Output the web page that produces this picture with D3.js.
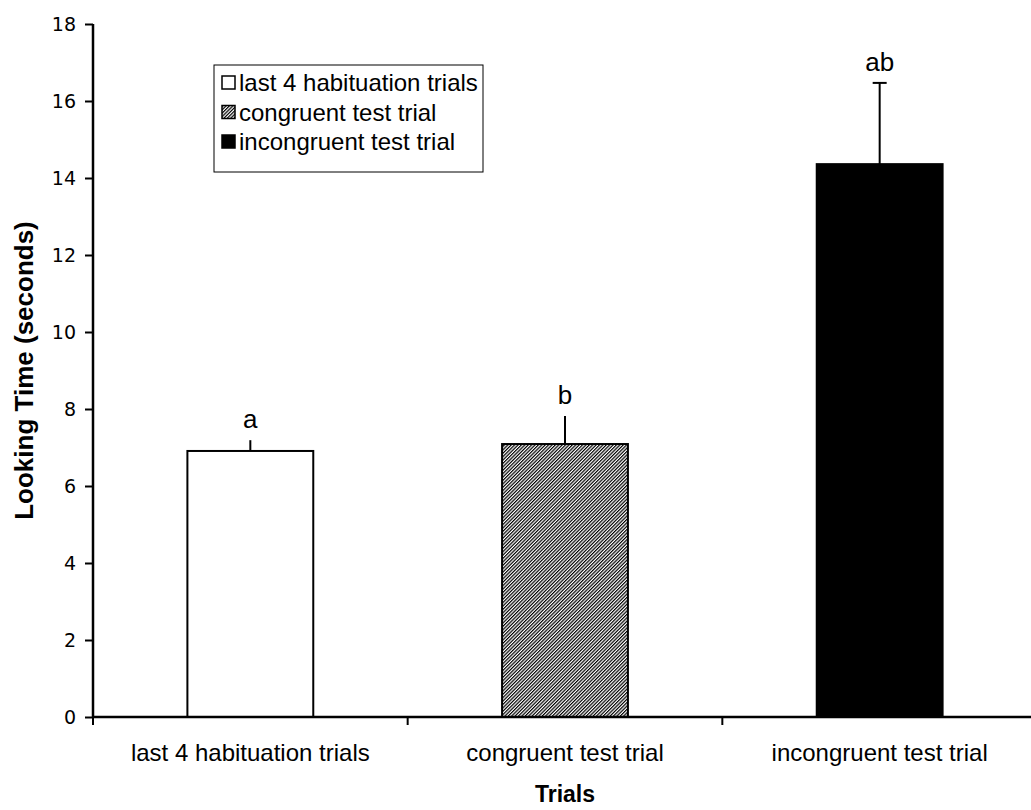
<!DOCTYPE html>
<html>
<head>
<meta charset="utf-8">
<script src="https://cdn.jsdelivr.net/npm/d3@7"></script>
<style>
  body { margin: 0; background: #fff; }
  text { fill: #000; }
</style>
</head>
<body>
<div id="chart"></div>
<script>
// Data
const categories = ["last 4 habituation trials", "congruent test trial", "incongruent test trial"];
const means = [6.91, 7.09, 14.36];
const errors = [0.28, 0.73, 2.11];
const letters = ["a", "b", "ab"];
const yTicks = [0, 2, 4, 6, 8, 10, 12, 14, 16, 18];

// SVG configurations
const margin = { top: 24, right: -6, bottom: 93, left: 93 };
const width = 1031 - margin.left - margin.right;
const height = 810 - margin.top - margin.bottom;
const font = "Liberation Sans, Arial, sans-serif";

const svg = d3.select("#chart")
  .append("svg")
    .attr("width", 1031)
    .attr("height", 810);

// hatch pattern for congruent bar
const defs = svg.append("defs");
defs.append("pattern")
    .attr("id", "hatch")
    .attr("patternUnits", "userSpaceOnUse")
    .attr("width", 2.4)
    .attr("height", 4)
    .attr("patternTransform", "rotate(45)")
  .call(p => {
    p.append("rect").attr("width", 2.4).attr("height", 4).attr("fill", "#fff");
    p.append("line")
      .attr("x1", 0.6).attr("y1", 0).attr("x2", 0.6).attr("y2", 4)
      .attr("stroke", "#000").attr("stroke-width", 1.2);
  });

const fills = ["#fff", "url(#hatch)", "#000"];

const g = svg.append("g")
  .attr("transform", `translate(${margin.left},${margin.top})`);

// Scales
const xScale = d3.scaleBand()
  .domain(categories)
  .range([0, width])
  .paddingInner(0.6)
  .paddingOuter(0.3);

const yScale = d3.scaleLinear()
  .domain([0, 18])
  .range([height, 0]);

// Bars
g.selectAll(".bar")
  .data(categories)
  .join("rect")
    .attr("class", "bar")
    .attr("x", d => xScale(d))
    .attr("y", (d, i) => yScale(means[i]))
    .attr("width", xScale.bandwidth())
    .attr("height", (d, i) => height - yScale(means[i]))
    .attr("fill", (d, i) => fills[i])
    .attr("stroke", "#000")
    .attr("stroke-width", 2);

// Error bars (upper only)
const capHalf = 7;
categories.forEach((c, i) => {
  const cx = xScale(c) + xScale.bandwidth() / 2;
  const top = yScale(means[i] + errors[i]);
  g.append("line")
    .attr("x1", cx).attr("x2", cx)
    .attr("y1", yScale(means[i])).attr("y2", top)
    .attr("stroke", "#000").attr("stroke-width", 2);
  if (i === 2) {
    g.append("line")
      .attr("x1", cx - capHalf).attr("x2", cx + capHalf)
      .attr("y1", top).attr("y2", top)
      .attr("stroke", "#000").attr("stroke-width", 2);
  }
  g.append("text")
    .attr("x", cx)
    .attr("y", top - 12)
    .attr("text-anchor", "middle")
    .style("font-family", font)
    .style("font-size", "26px")
    .text(letters[i]);
});

// Y axis
const yAxis = d3.axisLeft(yScale)
  .tickValues(yTicks)
  .tickSize(8)
  .tickPadding(9);
g.append("g")
  .attr("class", "yAxis")
  .call(yAxis)
  .call(a => a.select(".domain").attr("stroke-width", 2.5).attr("d", `M0,${height}V0`))
  .call(a => a.selectAll(".tick line").attr("stroke-width", 2))
  .call(a => a.selectAll("text")
    .style("font-family", "DejaVu Sans, Verdana, sans-serif")
    .style("font-size", "19px")
    .attr("fill", "#000"));

// X axis: ticks at category boundaries
const xAxisG = g.append("g")
  .attr("transform", `translate(0,${height})`);
xAxisG.append("line")
  .attr("x1", 0).attr("x2", width)
  .attr("stroke", "#000").attr("stroke-width", 2.5);
const step = xScale.step();
const x0 = xScale(categories[0]) - xScale.paddingOuter() * step;
d3.range(categories.length + 1).forEach(k => {
  xAxisG.append("line")
    .attr("x1", x0 + k * step).attr("x2", x0 + k * step)
    .attr("y1", 0).attr("y2", 8)
    .attr("stroke", "#000").attr("stroke-width", 2);
});
xAxisG.selectAll(".xlabel")
  .data(categories)
  .join("text")
    .attr("class", "xlabel")
    .attr("x", d => xScale(d) + xScale.bandwidth() / 2)
    .attr("y", 44)
    .attr("text-anchor", "middle")
    .style("font-family", font)
    .style("font-size", "24px")
    .text(d => d);

// Axis titles
g.append("text")
  .attr("x", width / 2)
  .attr("y", height + 85)
  .attr("text-anchor", "middle")
  .style("font-family", font)
  .style("font-weight", "bold")
  .style("font-size", "23px")
  .text("Trials");

g.append("text")
  .attr("transform", "rotate(-90)")
  .attr("x", -(yScale(9)))
  .attr("y", -60)
  .attr("text-anchor", "middle")
  .style("font-family", font)
  .style("font-weight", "bold")
  .style("font-size", "26px")
  .text("Looking Time (seconds)");

// Legend
const legend = svg.append("g")
  .attr("transform", "translate(214,65)");
legend.append("rect")
  .attr("width", 269)
  .attr("height", 107)
  .attr("fill", "#fff")
  .attr("stroke", "#000")
  .attr("stroke-width", 1);
categories.forEach((c, i) => {
  const row = legend.append("g")
    .attr("transform", `translate(8,${18 + i * 29.5})`);
  row.append("rect")
    .attr("x", 0).attr("y", -7)
    .attr("width", 13).attr("height", 13)
    .attr("fill", fills[i])
    .attr("stroke", "#000")
    .attr("stroke-width", 1.5);
  row.append("text")
    .attr("x", 17)
    .attr("y", 0)
    .attr("dy", "0.35em")
    .style("font-family", font)
    .style("font-size", "24px")
    .text(c);
});
</script>
</body>
</html>
